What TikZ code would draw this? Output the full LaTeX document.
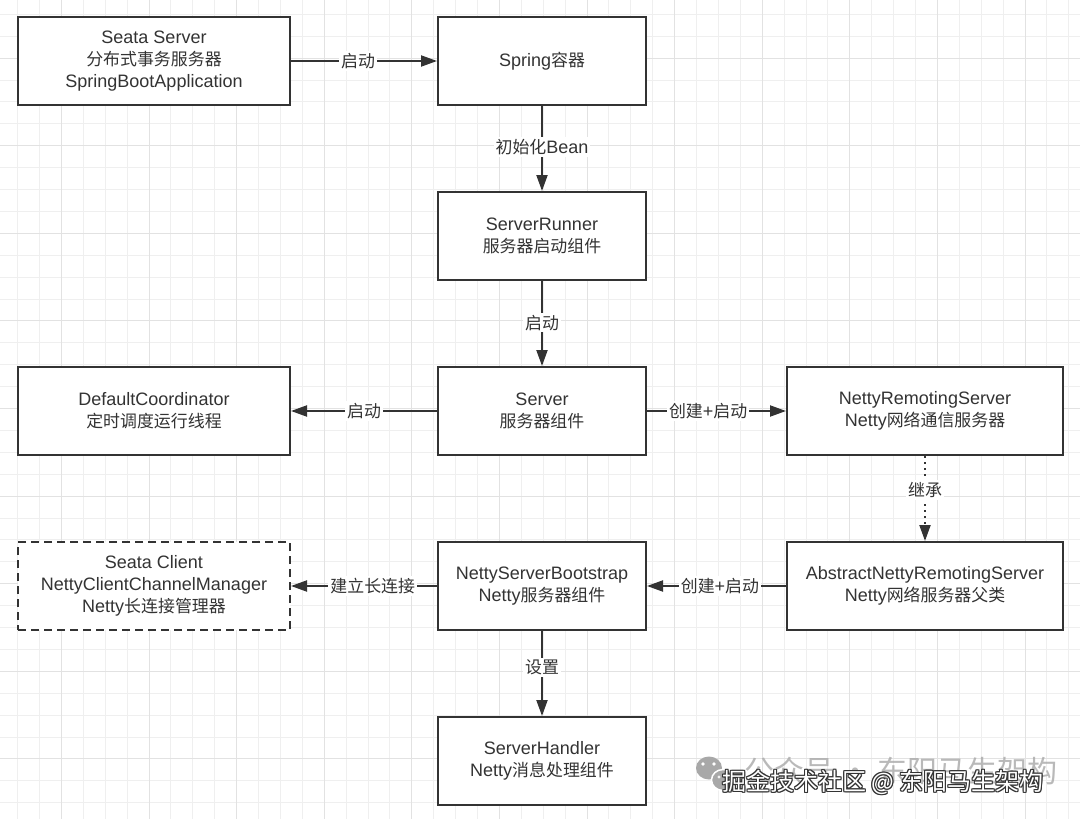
\documentclass[tikz,border=0pt]{standalone}
\usepackage{fontspec}
\setmainfont{Liberation Sans}
\newfontfamily\cjkf{Noto Sans CJK SC}[Scale=0.94]
\newfontfamily\wmf{Noto Sans CJK SC}
\newcommand\zh[1]{{\cjkf #1}}
\usetikzlibrary{arrows.meta}
\definecolor{ink}{HTML}{333333}
\definecolor{gridc}{HTML}{EFEFEF}
\definecolor{gridm}{HTML}{E2E2E2}
\definecolor{wmgray}{HTML}{A8A8A8}
\begin{document}
\begin{tikzpicture}[x=1pt,y=-1pt,
  box/.style={draw=ink, line width=2pt, fill=white, minimum width=208pt, minimum height=88pt,
    align=center, text=ink, font=\fontsize{18}{22}\selectfont, inner sep=0pt},
  wide/.style={minimum width=272pt},
  wider/.style={minimum width=276pt},
  arr/.style={draw=ink, line width=2pt, -{Triangle[length=16pt,width=11pt]}},
  lbl/.style={fill=white, text=ink, font=\fontsize{18}{22}\selectfont, inner sep=2pt},
  gridline/.style={draw=gridc, line width=1pt},
  gridmajor/.style={draw=gridm, line width=1pt}]
\useasboundingbox (0,0) rectangle (1080,819);
\fill[white] (0,0) rectangle (1080,819);
% grid
\foreach \i in {0,...,49} {\draw[gridline] ({17.6+21.9*\i},0) -- ({17.6+21.9*\i},819);}
\foreach \j in {0,...,37} {\draw[gridline] (0,{14.3+21.9*\j}) -- (1080,{14.3+21.9*\j});}
\foreach \i in {2,6,...,46} {\draw[gridmajor] ({17.6+21.9*\i},0) -- ({17.6+21.9*\i},819);}
\foreach \j in {2,6,...,38} {\draw[gridmajor] (0,{14.3+21.9*\j}) -- (1080,{14.3+21.9*\j});}
% boxes
\node[box,wide] (seata) at (154,61) {Seata Server\\\zh{分布式事务服务器}\\SpringBootApplication};
\node[box] (spring) at (542,61) {Spring\zh{容器}};
\node[box] (runner) at (542,236) {ServerRunner\\\zh{服务器启动组件}};
\node[box] (server) at (542,411) {Server\\\zh{服务器组件}};
\node[box,wide] (coord) at (154,411) {DefaultCoordinator\\\zh{定时调度运行线程}};
\node[box,wider] (nrs) at (925,411) {NettyRemotingServer\\Netty\zh{网络通信服务器}};
\node[box,wider] (ansr) at (925,586) {AbstractNettyRemotingServer\\Netty\zh{网络服务器父类}};
\node[box] (nsb) at (542,586) {NettyServerBootstrap\\Netty\zh{服务器组件}};
\node[box,wide,dash pattern=on 8pt off 5pt] (client) at (154,586) {Seata Client\\NettyClientChannelManager\\Netty\zh{长连接管理器}};
\node[box] (handler) at (542,761) {ServerHandler\\Netty\zh{消息处理组件}};
% connectors
\draw[arr] (seata) -- node[lbl,pos=0.46] (l1) {\zh{启动}} (spring);
\draw[arr] (spring) -- node[lbl,pos=0.48] (l2) {\zh{初始化}Bean} (runner);
\draw[arr] (runner) -- node[lbl,pos=0.49] (l3) {\zh{启动}} (server);
\draw[arr] (server) -- node[lbl,pos=0.5] (l4) {\zh{启动}} (coord);
\draw[arr] (server) -- node[lbl,pos=0.44] (l5) {\zh{创建}+\zh{启动}} (nrs);
\draw[arr,dash pattern=on 2pt off 4pt] (nrs) -- node[lbl,pos=0.40] (l6) {\zh{继承}} (ansr);
\draw[arr] (ansr) -- node[lbl,pos=0.475] (l7) {\zh{创建}+\zh{启动}} (nsb);
\draw[arr] (nsb) -- node[lbl,pos=0.44] (l8) {\zh{建立长连接}} (client);
\draw[arr] (nsb) -- node[lbl,pos=0.43] (l9) {\zh{设置}} (handler);
% watermark: WeChat icon
\fill[wmgray] (709,768) ellipse (13 and 11.5);
\fill[white] (703,764) circle (1.8) (714,764) circle (1.8);
\filldraw[fill=wmgray, draw=white, line width=1.5pt] (723,780) ellipse (11.5 and 10.5);
\fill[white!85!wmgray] (719,777) circle (1.6) (728,777) circle (1.6);
\node[text=wmgray, opacity=0.8, font=\wmf\fontsize{30}{32}\selectfont, anchor=west, inner sep=0pt] (wm1) at (744,771) {公众号 · 东阳马生架构};
\foreach \dx/\dy in {-1/0,1/0,0/-1,0/1,-1/-1,1/1,-1/1,1/-1}
  {\node[text=ink, font=\wmf\fontsize{24}{26}\selectfont, anchor=west, inner sep=0pt] at ({722+\dx},{782+\dy}) {掘金技术社区 @ 东阳马生架构};}
\node[text=white, font=\wmf\fontsize{24}{26}\selectfont, anchor=west, inner sep=0pt] (wm2) at (722,782) {掘金技术社区 @ 东阳马生架构};
\end{tikzpicture}
\end{document}
